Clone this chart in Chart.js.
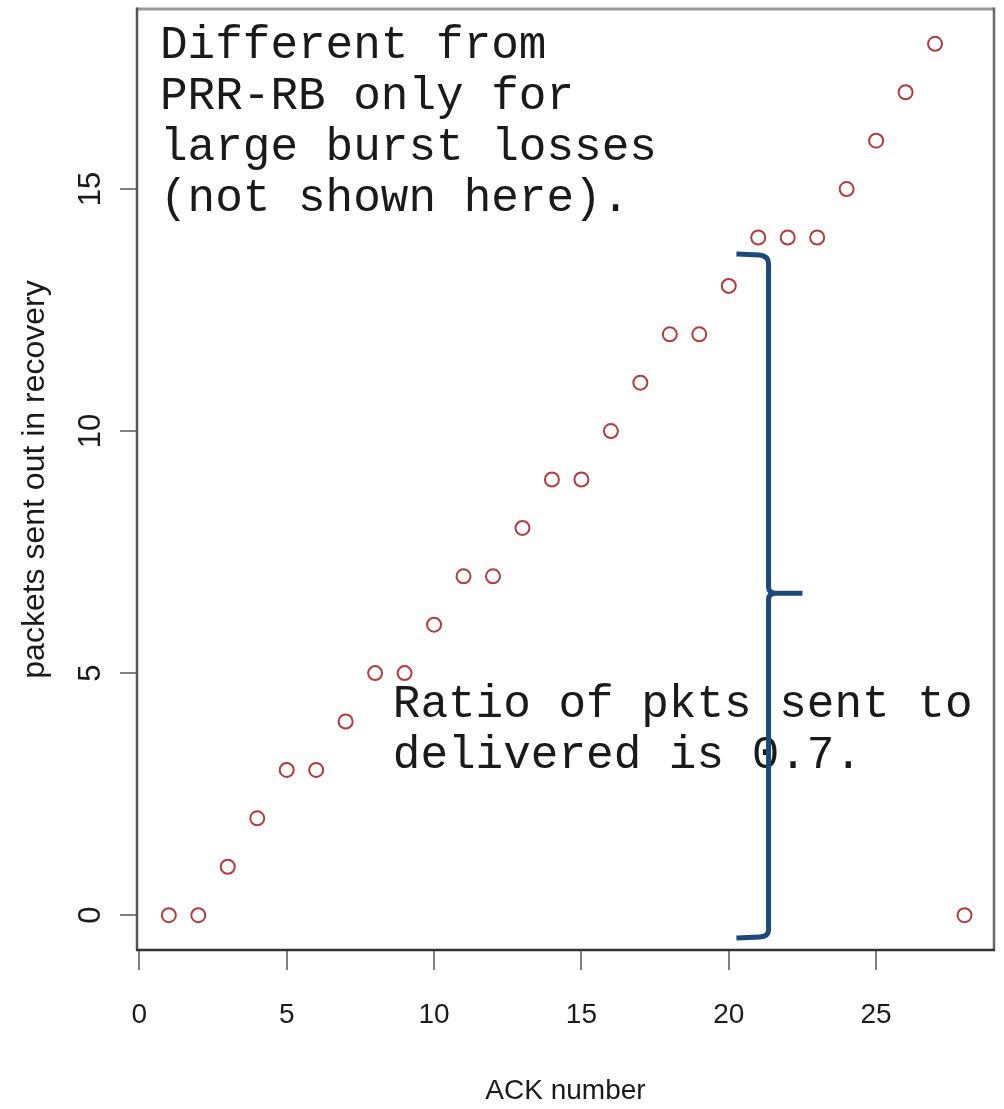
<!DOCTYPE html>
<html>
<head>
<meta charset="utf-8">
<script src="https://cdn.jsdelivr.net/npm/chart.js@4/dist/chart.umd.min.js"></script>
<style>
  html, body { margin: 0; padding: 0; background: #ffffff; }
  #wrap { width: 1004px; height: 1109px; }
</style>
</head>
<body>
<div id="wrap"><canvas id="c" width="1004" height="1109"></canvas></div>
<script>
// ---- data ----
const ackNumbers = [1, 2, 3, 4, 5, 6, 7, 8, 9, 10, 11, 12, 13, 14, 15, 16, 17, 18, 19, 20, 21, 22, 23, 24, 25, 26, 27, 28];
const packetsSent = [0, 0, 1, 2, 3, 3, 4, 5, 5, 6, 7, 7, 8, 9, 9, 10, 11, 12, 12, 13, 14, 14, 14, 15, 16, 17, 18, 0];
const xTickValues = [0, 5, 10, 15, 20, 25];
const yTickValues = [0, 5, 10, 15];
const xTitle = 'ACK number';
const yTitle = 'packets sent out in recovery';
const noteTop = ['Different from', 'PRR-RB only for', 'large burst losses', '(not shown here).'];
const noteRatio = ['Ratio of pkts sent to', 'delivered is 0.7.'];

// annotation anchors in data units
const notes = [
  { x: 0.70, y: 17.70, step: 1.052, lines: noteTop },
  { x: 8.60, y: 4.086, step: 1.052, lines: noteRatio }
];
const brace = { x: 21.35, top: 13.66, bottom: -0.47, tip: 6.65, tipX: 22.5, left: 20.26 };

const axisFont = "'Liberation Sans', Arial, Helvetica, sans-serif";
const monoFont = "'Courier New', 'Liberation Mono', monospace";

const annotationPlugin = {
  id: 'annot',
  afterDatasetsDraw(chart) {
    const ctx = chart.ctx;
    const xs = chart.scales.x, ys = chart.scales.y;
    const ca = chart.chartArea;
    ctx.save();
    // plot box
    ctx.lineCap = 'butt';
    ctx.strokeStyle = '#9a9a9a'; ctx.lineWidth = 3;
    ctx.beginPath(); ctx.moveTo(ca.left, ca.top); ctx.lineTo(ca.right, ca.top); ctx.stroke();
    ctx.strokeStyle = '#6a6a6a'; ctx.lineWidth = 2.5;
    ctx.beginPath(); ctx.moveTo(ca.right, ca.top - 1.5); ctx.lineTo(ca.right, ca.bottom); ctx.stroke();
    ctx.strokeStyle = '#555555';
    ctx.beginPath(); ctx.moveTo(ca.left, ca.top - 1.5); ctx.lineTo(ca.left, ca.bottom); ctx.stroke();
    ctx.strokeStyle = '#333333';
    ctx.beginPath(); ctx.moveTo(ca.left - 1, ca.bottom); ctx.lineTo(ca.right + 1, ca.bottom); ctx.stroke();

    // notes
    ctx.fillStyle = '#1a1a1a';
    ctx.font = '46px ' + monoFont;
    ctx.textAlign = 'left';
    ctx.textBaseline = 'alphabetic';
    notes.forEach(n => {
      n.lines.forEach((t, i) => {
        ctx.fillText(t, xs.getPixelForValue(n.x), ys.getPixelForValue(n.y - i * n.step));
      });
    });

    // brace
    const X = v => xs.getPixelForValue(v), Y = v => ys.getPixelForValue(v);
    ctx.strokeStyle = '#1b4a78';
    ctx.lineWidth = 5;
    ctx.lineJoin = 'round';
    ctx.lineCap = 'butt';
    ctx.beginPath();
    ctx.moveTo(X(brace.left), Y(brace.top));
    ctx.lineTo(X(brace.x - 0.3), Y(brace.top - 0.02));
    ctx.quadraticCurveTo(X(brace.x), Y(brace.top - 0.04), X(brace.x), Y(brace.top - 0.2));
    ctx.lineTo(X(brace.x), Y(brace.tip + 0.13));
    ctx.quadraticCurveTo(X(brace.x), Y(brace.tip), X(brace.x + 0.25), Y(brace.tip));
    ctx.lineTo(X(brace.tipX), Y(brace.tip));
    ctx.moveTo(X(brace.x + 0.25), Y(brace.tip));
    ctx.quadraticCurveTo(X(brace.x), Y(brace.tip), X(brace.x), Y(brace.tip - 0.13));
    ctx.lineTo(X(brace.x), Y(brace.bottom + 0.17));
    ctx.quadraticCurveTo(X(brace.x), Y(brace.bottom + 0.03), X(brace.x - 0.3), Y(brace.bottom + 0.02));
    ctx.lineTo(X(brace.left), Y(brace.bottom));
    ctx.stroke();
    ctx.restore();
  }
};

new Chart(document.getElementById('c'), {
  type: 'scatter',
  data: {
    datasets: [{
      data: ackNumbers.map((x, i) => ({ x: x, y: packetsSent[i] })),
      pointStyle: 'circle',
      pointRadius: 7,
      pointBorderWidth: 2,
      borderColor: '#b33b3b',
      backgroundColor: 'rgba(0,0,0,0)',
      showLine: false
    }]
  },
  options: {
    responsive: false,
    animation: false,
    devicePixelRatio: 1,
    layout: { padding: { top: 7, right: 10, left: 0, bottom: 0 } },
    plugins: { legend: { display: false }, tooltip: { enabled: false } },
    scales: {
      x: {
        type: 'linear',
        min: -0.08,
        max: 29.0,
        afterBuildTicks: s => { s.ticks = xTickValues.map(v => ({ value: v })); },
        afterFit: s => { s.height = 159; s.paddingLeft = 0; s.paddingRight = 0; },
        border: { display: false },
        grid: { display: true, drawOnChartArea: false, drawTicks: true, tickLength: 20, color: '#808080', lineWidth: 2 },
        ticks: { font: { family: axisFont, size: 28 }, color: '#1a1a1a', padding: 28, maxRotation: 0, minRotation: 0 },
        title: { display: true, text: xTitle, font: { family: axisFont, size: 28 }, color: '#1a1a1a', padding: { top: 0, bottom: 1 } }
      },
      y: {
        type: 'linear',
        min: -0.72,
        max: 18.72,
        afterBuildTicks: s => { s.ticks = yTickValues.map(v => ({ value: v })); },
        afterFit: s => { s.width = 137; s.paddingTop = 0; s.paddingBottom = 0; },
        border: { display: false },
        grid: { display: true, drawOnChartArea: false, drawTicks: true, tickLength: 17, color: '#808080', lineWidth: 2 },
        ticks: { font: { family: axisFont, size: 31 }, color: '#1a1a1a', padding: 11, minRotation: 90, maxRotation: 90, crossAlign: 'center' },
        title: { display: true, text: yTitle, font: { family: axisFont, size: 32 }, color: '#1a1a1a', padding: { top: 16, bottom: 0 } }
      }
    }
  },
  plugins: [annotationPlugin]
});
</script>
</body>
</html>
